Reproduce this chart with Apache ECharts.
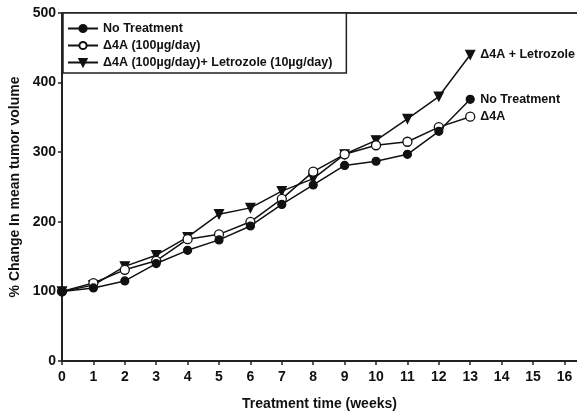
<!DOCTYPE html>
<html>
<head>
<meta charset="utf-8">
<script src="https://cdn.jsdelivr.net/npm/echarts@6/dist/echarts.min.js"></script>
<style>
  html, body { margin: 0; padding: 0; background: #fff; }
  #chart { width: 577px; height: 413px; }
</style>
</head>
<body>
<div id="chart"></div>
<script>
// Treatment weeks and % change in mean tumor volume per group
const weeks = [0, 1, 2, 3, 4, 5, 6, 7, 8, 9, 10, 11, 12, 13];
const noTreatment = [100, 105, 115, 140, 159, 174, 194, 225, 253, 281, 287, 297, 330, 376];
const d4a = [100, 112, 131, 144, 175, 182, 200, 233, 272, 297, 310, 315, 336, 351];
const d4aLetrozole = [100, 109, 136, 152, 178, 211, 220, 244, 262, 297, 317, 348, 380, 440];

const seriesNames = ['No Treatment', 'Δ4A (100µg/day)', 'Δ4A (100µg/day)+ Letrozole (10µg/day)'];
const endNames = ['No Treatment', 'Δ4A', 'Δ4A + Letrozole'];

const yTicks = [0, 100, 200, 300, 400, 500];
const xTicks = [0, 1, 2, 3, 4, 5, 6, 7, 8, 9, 10, 11, 12, 13, 14, 15, 16];

const FONT = '"Liberation Sans", Arial, Helvetica, sans-serif';
const INK = '#111';

function pairs(vals) {
  return weeks.map((w, i) => [w, vals[i]]);
}

function lineSeries(name, vals, endName, symbol, opts) {
  return Object.assign({
    name: name,
    type: 'line',
    data: pairs(vals),
    symbol: symbol,
    symbolSize: 8,
    showAllSymbol: true,
    lineStyle: { color: INK, width: 1.5 },
    itemStyle: { color: INK, borderColor: INK, borderWidth: 1.2 },
    emphasis: { disabled: true },
    animation: false,
    endLabel: {
      show: true,
      formatter: endName,
      color: INK,
      fontFamily: FONT,
      fontWeight: 'bold',
      fontSize: 12.5,
      distance: 10
    }
  }, opts || {});
}

const chart = echarts.init(document.getElementById('chart'), null, { renderer: 'canvas' });

chart.setOption({
  backgroundColor: '#fff',
  animation: false,
  grid: { left: 62, right: 0, top: 13, bottom: 52, containLabel: false, outerBoundsMode: 'none' },
  legend: {
    left: 63,
    top: 13,
    orient: 'vertical',
    itemGap: 4,
    itemWidth: 30,
    itemHeight: 9,
    padding: [9, 14, 4, 4],
    borderColor: '#222',
    borderWidth: 1.5,
    backgroundColor: '#fff',
    textStyle: { color: INK, fontFamily: FONT, fontWeight: 'bold', fontSize: 12.5 },
    data: seriesNames
  },
  xAxis: [{
    type: 'value',
    min: 0,
    max: 16.4,
    interval: 1,
    name: 'Treatment time (weeks)',
    nameLocation: 'middle',
    nameGap: 36,
    nameTextStyle: { color: INK, fontFamily: FONT, fontWeight: 'bold', fontSize: 14 },
    axisLine: { show: true, lineStyle: { color: '#222', width: 2 } },
    axisTick: { show: true, length: 4, lineStyle: { color: '#222', width: 1.5 } },
    axisLabel: {
      color: INK, fontFamily: FONT, fontWeight: 'bold', fontSize: 14, margin: 9,
      formatter: v => (xTicks.indexOf(v) >= 0 ? String(v) : ''),
      showMaxLabel: false
    },
    splitLine: { show: false }
  }, {
    // top frame line
    type: 'value',
    position: 'top',
    min: 0,
    max: 16.4,
    axisLine: { show: true, lineStyle: { color: '#333', width: 2 } },
    axisTick: { show: false },
    axisLabel: { show: false },
    splitLine: { show: false }
  }],
  yAxis: {
    type: 'value',
    min: 0,
    max: 500,
    interval: 100,
    name: '% Change In mean tumor volume',
    nameLocation: 'middle',
    nameGap: 38,
    nameTextStyle: { color: INK, fontFamily: FONT, fontWeight: 'bold', fontSize: 14 },
    axisLine: { show: true, lineStyle: { color: '#222', width: 2 } },
    axisTick: { show: true, length: 4, lineStyle: { color: '#222', width: 1.5 } },
    axisLabel: {
      color: INK, fontFamily: FONT, fontWeight: 'bold', fontSize: 14, margin: 6,
      formatter: v => (yTicks.indexOf(v) >= 0 ? String(v) : '')
    },
    splitLine: { show: false }
  },
  series: [
    lineSeries(seriesNames[0], noTreatment, endNames[0], 'circle', { symbolSize: 8, z: 4 }),
    lineSeries(seriesNames[1], d4a, endNames[1], 'circle', {
      symbolSize: 9, z: 3,
      itemStyle: { color: '#fff', borderColor: INK, borderWidth: 1.3 }
    }),
    lineSeries(seriesNames[2], d4aLetrozole, endNames[2], 'triangle', {
      symbolSize: 9, symbolRotate: 180, z: 2
    })
  ]
});
</script>
</body>
</html>
